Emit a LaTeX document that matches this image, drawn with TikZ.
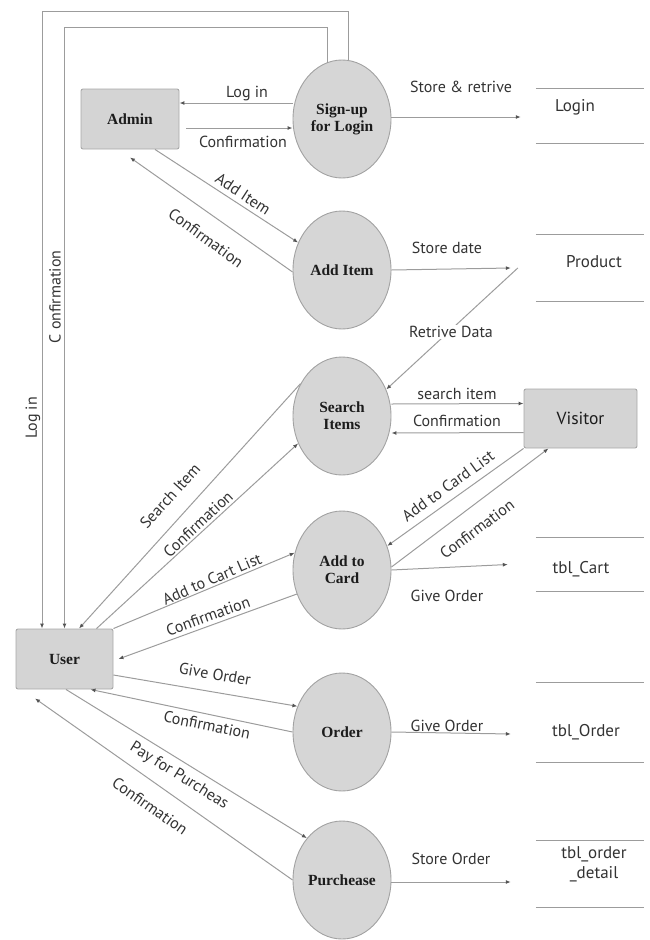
\documentclass[tikz,border=0pt]{standalone}
\usepackage{fontspec}
\setmainfont{Liberation Serif}
\setsansfont{PT Sans}
\usetikzlibrary{shapes.geometric,arrows.meta,calc}
\definecolor{procfill}{HTML}{D6D6D6}
\definecolor{procborder}{HTML}{A2A2A2}
\definecolor{boxfill}{HTML}{D4D4D4}
\definecolor{boxborder}{HTML}{A8A8A8}
\definecolor{linegray}{HTML}{9C9C9C}
\definecolor{arrowdark}{HTML}{555555}
\definecolor{labtext}{HTML}{333333}
\definecolor{proctext}{HTML}{1C1C1C}
\begin{document}
\begin{tikzpicture}[x=1pt,y=-1pt,
  proc/.style={ellipse,draw=procborder,fill=procfill,line width=0.9pt,
    minimum width=98pt,minimum height=118pt,inner sep=0pt,align=center,
    text=proctext,font=\fontsize{15.5}{17}\selectfont\bfseries},
  entity/.style={rectangle,rounded corners=2pt,draw=boxborder,fill=boxfill,
    line width=0.9pt,inner sep=0pt,text=proctext,
    font=\fontsize{15.5}{17}\selectfont\bfseries},
  sansentity/.style={entity,font=\sffamily\fontsize{17.5}{19}\selectfont},
  store/.style={rectangle,minimum width=108pt,inner sep=0pt},
  storeline/.style={draw=linegray,line width=1pt},
  storetext/.style={font=\sffamily\fontsize{17}{20}\selectfont,text=labtext,align=center,inner sep=0pt},
  flow/.style={draw=linegray,line width=1pt,-{Latex[length=5pt,width=4pt,color=arrowdark]}},
  lab/.style={font=\sffamily\fontsize{16}{18}\selectfont,text=labtext,inner sep=1pt}
]
\useasboundingbox (0,0) rectangle (649,940);

% processes
\node[proc] (signup) at (342,119) {Sign-up\\for Login};
\node[proc] (additem) at (342,270) {Add Item};
\node[proc] (search) at (342,416) {Search\\Items};
\node[proc] (addcard) at (342,570) {Add to\\Card};
\node[proc] (order) at (342,732) {Order};
\node[proc] (purchase) at (342,880) {Purchease};

% external entities
\node[entity,minimum width=98pt,minimum height=60pt] (admin) at (130,119) {Admin};
\node[entity,minimum width=97pt,minimum height=60pt] (user) at (64.5,659) {User};
\node[sansentity,minimum width=113pt,minimum height=59pt] (visitor) at (580.5,418.5) {Visitor};

% data stores
\node[store,minimum height=54pt] (loginS) at (590,116) {};
\node[store,minimum height=66pt] (productS) at (590,268) {};
\node[store,minimum height=53pt] (cartS) at (590,564.5) {};
\node[store,minimum height=79pt] (tblorderS) at (590,722.5) {};
\node[store,minimum height=66pt] (detailS) at (590,874) {};
\foreach \s in {loginS,productS,cartS,tblorderS,detailS}{
  \draw[storeline] (\s.north west) -- (\s.north east) (\s.south west) -- (\s.south east);
}
\node[storetext] (loginT) at (575,107) {Login};
\node[storetext] (productT) at (594,262) {Product};
\node[storetext] (cartT) at (581,569) {tbl\_Cart};
\node[storetext] (tblorderT) at (586,732) {tbl\_Order};
\node[storetext] (detailT) at (594,864) {tbl\_order\\\_detail};

% flows: admin / sign-up
\draw[flow] ([yshift=16pt]signup.west) -- ([yshift=16pt]admin.east);
\draw[flow] ([xshift=7pt,yshift=-9pt]admin.east) -- ([yshift=-9pt]signup.west);
\draw[flow] ([yshift=2pt]signup.east) -- ([xshift=-15pt,yshift=-1pt]loginS.west);
\node[lab] (l1) at (247,94) {Log in};
\node[lab] (l2) at (243,142) {Confirmation};
\node[lab] (l3) at (461,87) {Store \& retrive};

% admin / add item
\draw[flow] ([xshift=25pt]admin.south) -- (additem.148);
\draw[flow] ([yshift=-2pt]additem.west) -- ([yshift=-8pt]admin.south);
\draw[flow] (additem.east) -- ([xshift=-25pt]productS.west);
\node[lab,rotate=-33] (l4) at (243,194) {Add Item};
\node[lab,rotate=-36] (l5) at (206,238) {Confirmation};
\node[lab] (l6) at (447,248) {Store date};

% product -> search
\draw[flow] ([xshift=-18pt]productS.west) -- (search.31);
\node[lab,fill=white] (l7) at (451,332) {Retrive Data};

% search / visitor
\draw[flow] ([yshift=12pt]search.east) -- ([yshift=15pt]visitor.west);
\draw[flow] ([yshift=-14pt]visitor.west) -- ([yshift=-17pt]search.east);
\node[lab] (l8) at (457,394) {search item};
\node[lab] (l9) at (457,421) {Confirmation};

% visitor / add to card
\draw[flow] (visitor.south west) -- (addcard.28);
\draw[flow] ([yshift=3pt]addcard.east) -- ([xshift=-32pt]visitor.south);
\draw[flow] (addcard.east) -- ([xshift=-28pt]cartS.west);
\node[lab,rotate=35.7] (l10) at (448,486) {Add to Card List};
\node[lab,rotate=36.9] (l11) at (477,529) {Confirmation};
\node[lab] (l12) at (447,596) {Give Order};

% user / search
\draw[flow] (search.142) -- ([xshift=14.5pt]user.north);
\draw[flow] ([xshift=32pt]user.north) -- (search.212);
\node[lab,rotate=48.1] (l13) at (170,496) {Search Item};
\node[lab,rotate=42.9] (l14) at (198,524) {Confirmation};

% user / add to card
\draw[flow] (user.north east) -- (addcard.160);
\draw[flow] (addcard.208) -- ([xshift=5pt]user.east);
\node[lab,rotate=23.3] (l15) at (212,579) {Add to Cart List};
\node[lab,rotate=19.9] (l16) at (208,616) {Confirmation};

% user / order
\draw[flow] ([yshift=-16pt]user.east) -- (order.150);
\draw[flow] (order.west) -- ([xshift=26pt]user.south);
\draw[flow] (order.east) -- ([xshift=-25pt,yshift=-11.5pt]tblorderS.west);
\node[lab,rotate=-9.8] (l17) at (215,674) {Give Order};
\node[lab,rotate=-11.7] (l18) at (207,725) {Confirmation};
\node[lab] (l19) at (447,726) {Give Order};

% user / purchase
\draw[flow] ([xshift=1.5pt]user.south) -- (purchase.130);
\draw[flow] (purchase.west) -- ([xshift=-29.5pt,yshift=-9pt]user.south);
\draw[flow] ([yshift=-2pt]purchase.east) -- ([xshift=-25pt,yshift=-8pt]detailS.west);
\node[lab,rotate=-32] (l20) at (179,776) {Pay for Purcheas};
\node[lab,rotate=-35.2] (l21) at (150,806) {Confirmation};
\node[lab] (l22) at (451,859) {Store Order};

% sign-up -> user loops
\draw[flow] ([xshift=6pt]signup.north) -- ++(0,-48) -| ([xshift=-22.5pt]user.north);
\draw[flow] ([xshift=-15pt,yshift=-3pt]signup.north) -- ++(0,-35) -| (user.north);
\node[lab,rotate=90] (l23) at (33,418) {Log in};
\node[lab,rotate=90] (l24) at (55,297) {C onfirmation};
\end{tikzpicture}
\end{document}
